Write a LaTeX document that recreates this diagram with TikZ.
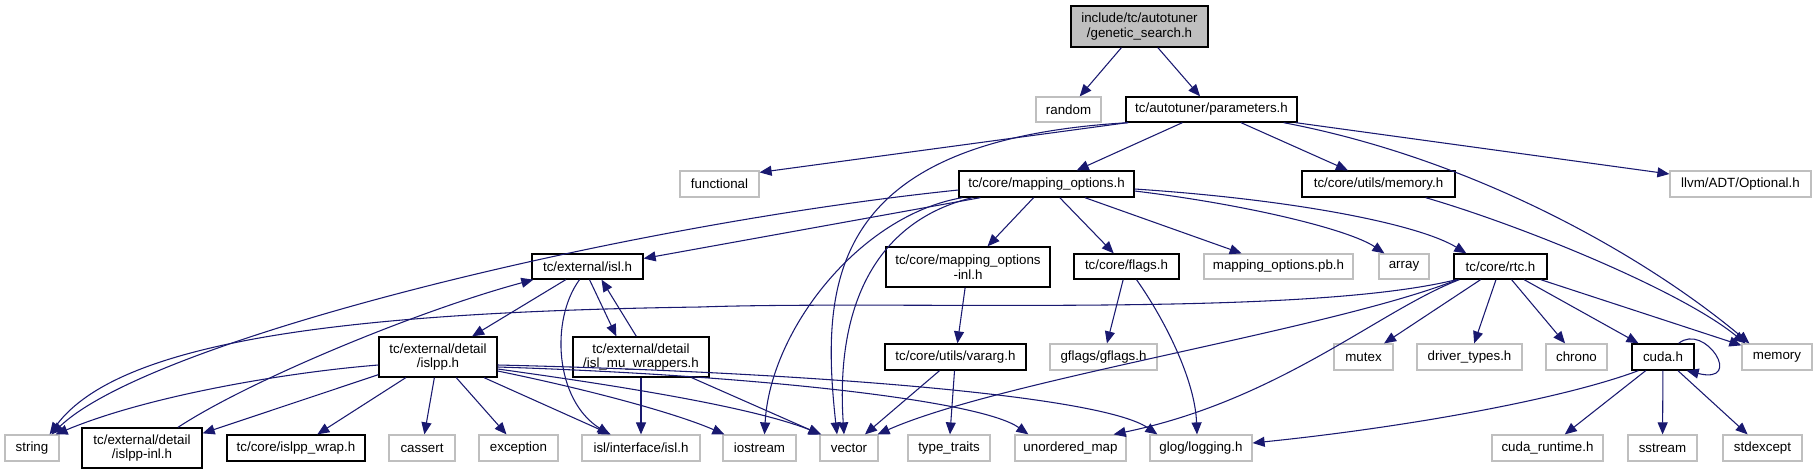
\documentclass[tikz,border=0pt]{standalone}
\usepackage{fontspec}
\setmainfont{Liberation Sans}
\usetikzlibrary{arrows.meta,calc}
\definecolor{edgec}{HTML}{191970}
\definecolor{grayb}{HTML}{BFBFBF}
\begin{document}
\begin{tikzpicture}[x=0.75pt,y=-0.75pt,
  base/.style={rectangle, inner sep=0pt, font=\fontsize{10}{11}\selectfont, align=center, text=black},
  box/.style={base, draw=black, line width=1pt},
  ext/.style={base, draw=grayb, line width=0.9pt},
  sz/.style 2 args={minimum width=#1*0.75pt, minimum height=#2*0.75pt},
  e/.style={draw=edgec, line width=0.8pt, -{Triangle[length=9pt,width=7.5pt]}}]
\useasboundingbox (0,0) rectangle (1816,475);
\fill[white] (0,0) rectangle (1816,475);
% level 0
\node[box, fill=grayb, sz={137}{41}] (gs) at (1139.5,26.5) {include/tc/autotuner\\/genetic\_search.h};
% level 1
\node[ext, sz={65}{25}] (random) at (1068.5,109.5) {random};
\node[box, sz={171}{25}] (params) at (1211.5,109.5) {tc/autotuner/parameters.h};
% level 2
\node[ext, sz={79}{26}] (functional) at (719.5,184) {functional};
\node[box, sz={175}{26}] (mapopt) at (1046.5,184) {tc/core/mapping\_options.h};
\node[box, sz={153}{26}] (umem) at (1378.5,184) {tc/core/utils/memory.h};
\node[ext, sz={141}{26}] (llvm) at (1740.5,184) {llvm/ADT/Optional.h};
% level 3
\node[box, sz={111}{25}] (isl) at (587.5,266.5) {tc/external/isl.h};
\node[box, sz={164}{40}] (mapinl) at (968,267) {tc/core/mapping\_options\\-inl.h};
\node[box, sz={105}{25}] (flags) at (1126.5,266.5) {tc/core/flags.h};
\node[ext, sz={149}{25}] (pb) at (1278.5,266.5) {mapping\_options.pb.h};
\node[ext, sz={50}{25}] (array) at (1404,266.5) {array};
\node[box, sz={93}{25}] (rtc) at (1500.5,266.5) {tc/core/rtc.h};
% level 4
\node[box, sz={118}{40}] (islpp) at (438,357) {tc/external/detail\\/islpp.h};
\node[box, sz={136}{40}] (mu) at (641,357) {tc/external/detail\\/isl\_mu\_wrappers.h};
\node[box, sz={141}{26}] (varg) at (955.5,357) {tc/core/utils/vararg.h};
\node[ext, sz={107}{26}] (gflags) at (1103.5,357) {gflags/gflags.h};
\node[ext, sz={59}{26}] (mutex) at (1363.5,357) {mutex};
\node[ext, sz={105}{26}] (driver) at (1469.5,357) {driver\_types.h};
\node[ext, sz={61}{26}] (chrono) at (1576.5,357) {chrono};
\node[box, sz={62}{26}] (cuda) at (1663,357) {cuda.h};
\node[ext, sz={70}{26}] (memory) at (1777,357) {memory};
% level 5
\node[ext, sz={54}{26}] (string) at (32,448) {string};
\node[box, sz={120}{40}] (islppinl) at (142,448) {tc/external/detail\\/islpp-inl.h};
\node[box, sz={138}{26}] (wrap) at (296,448) {tc/core/islpp\_wrap.h};
\node[ext, sz={66}{26}] (cassert) at (422,448) {cassert};
\node[ext, sz={79}{26}] (exception) at (518.5,448) {exception};
\node[ext, sz={118}{26}] (ifisl) at (641,448) {isl/interface/isl.h};
\node[ext, sz={73}{26}] (iostream) at (759.5,448) {iostream};
\node[ext, sz={58}{26}] (vector) at (849,448) {vector};
\node[ext, sz={82}{26}] (typetraits) at (949,448) {type\_traits};
\node[ext, sz={111}{26}] (umap) at (1070.5,448) {unordered\_map};
\node[ext, sz={102}{26}] (glog) at (1201,448) {glog/logging.h};
\node[ext, sz={111}{26}] (cudart) at (1547.5,448) {cuda\_runtime.h};
\node[ext, sz={69}{26}] (sstream) at (1662.5,448) {sstream};
\node[ext, sz={79}{26}] (stdexcept) at (1762.5,448) {stdexcept};

% edges from genetic_search.h
\draw[e] (gs) -- (random);
\draw[e] (gs) -- (params);
% edges from parameters.h
\draw[e] ($(params.south west)+(2,0)$) -- ($(functional.north east)+(0,2)$);
\draw[e] ($(params.south west)+(3,0)$) .. controls (830,140) and (820,280) .. ($(vector.north)+(-12,0)$);
\draw[e] (params) -- (mapopt);
\draw[e] (params) -- (umem);
\draw[e] ($(params.south east)+(-14,0)$) .. controls (1480,160) and (1650,260) .. ($(memory.north west)+(8,0)$);
\draw[e] ($(params.south east)+(-2,0)$) -- ($(llvm.west)+(0,-10)$);
% edges from mapping_options.h
\draw[e] ($(mapopt.west)+(0,6)$) .. controls (620,225) and (150,340) .. ($(string.north east)+(-8,0)$);
\draw[e] ($(mapopt.south west)+(22,0)$) -- ($(isl.east)+(0,-8)$);
\draw[e] ($(mapopt.south west)+(4,0)$) .. controls (860,215) and (770,330) .. ($(iostream.north)+(5,0)$);
\draw[e] ($(mapopt.south west)+(14,0)$) .. controls (880,220) and (835,300) .. ($(vector.north)+(-5,0)$);
\draw[e] (mapopt) -- (mapinl);
\draw[e] (mapopt) -- (flags);
\draw[e] (mapopt) -- (pb);
\draw[e] ($(mapopt.east)+(0,7)$) .. controls (1250,205) and (1350,230) .. ($(array.north west)+(6,0)$);
\draw[e] ($(mapopt.east)+(0,5)$) .. controls (1300,200) and (1420,225) .. ($(rtc.north west)+(13,0)$);
% tc/core/utils/memory.h
\draw[e] ($(umem.south east)+(-30,0)$) .. controls (1520,225) and (1680,290) .. ($(memory.north west)+(4,0)$);
% isl.h
\draw[e] (isl) -- (islpp);
\draw[e] ($(isl.south)+(-8,0)$) .. controls (550,320) and (555,400) .. ($(ifisl.north west)+(28,0)$);
\draw[e] ($(isl.south)+(2,0)$) -- ($(mu.north west)+(44,0)$);
\draw[e] ($(mu.north west)+(64,0)$) -- ($(isl.south)+(14,0)$);
% islpp.h
\draw[e] ($(islpp.west)+(0,8)$) .. controls (290,372) and (150,395) .. ($(string.north east)+(-4,0)$);
\draw[e] ($(islpp.south west)+(0,-3)$) -- ($(islppinl.north east)+(0,6)$);
\draw[e] (islpp) -- (wrap);
\draw[e] (islpp) -- (cassert);
\draw[e] (islpp) -- (exception);
\draw[e] (islpp) -- (ifisl);
\draw[e] ($(islpp.east)+(0,14)$) .. controls (600,392) and (680,415) .. ($(iostream.north west)+(2,0)$);
\draw[e] ($(islpp.east)+(0,12)$) .. controls (650,390) and (760,410) .. ($(vector.north west)+(2,0)$);
\draw[e] ($(islpp.east)+(0,10)$) .. controls (750,375) and (980,400) .. ($(umap.north west)+(14,0)$);
\draw[e] ($(islpp.east)+(0,8)$) .. controls (800,372) and (1100,395) .. ($(glog.north west)+(8,0)$);
% islpp-inl.h
\draw[e] ($(islppinl.north)+(36,0)$) .. controls (250,380) and (420,310) .. ($(isl.south west)+(2,0)$);
% isl_mu_wrappers.h
\draw[e] (mu) -- (ifisl);
\draw[e] ($(mu.south east)+(-18,0)$) -- ($(vector.north west)+(1,0)$);
% mapping_options-inl.h, vararg.h
\draw[e] (mapinl) -- (varg);
\draw[e] (varg) -- (vector);
\draw[e] (varg) -- (typetraits);
% flags.h
\draw[e] (flags) -- (gflags);
\draw[e] ($(flags.south)+(10,0)$) .. controls (1165,320) and (1195,380) .. ($(glog.north)+(-4,0)$);
% rtc.h
\draw[e] ($(rtc.south west)+(3,0)$) .. controls (1300,318) and (900,300) .. (700,307) .. controls (350,312) and (120,340) .. ($(string.north east)+(-10,0)$);
\draw[e] ($(rtc.south west)+(4,0)$) .. controls (1330,330) and (1000,380) .. ($(vector.north east)+(-1,0)$);
\draw[e] ($(rtc.south west)+(6,0)$) .. controls (1380,310) and (1280,400) .. ($(umap.north east)+(-13,0)$);
\draw[e] (rtc) -- (mutex);
\draw[e] (rtc) -- (driver);
\draw[e] (rtc) -- (chrono);
\draw[e] (rtc) -- (cuda);
\draw[e] (rtc) -- (memory);
% cuda.h
\draw[e] ($(cuda.north east)+(-16,0)$) .. controls (1705,322) and (1745,385) .. ($(cuda.south east)+(-8,0)$);
\draw[e] ($(cuda.south west)+(7,0)$) .. controls (1560,400) and (1400,428) .. ($(glog.east)+(0,-5)$);
\draw[e] (cuda) -- (cudart);
\draw[e] (cuda) -- (sstream);
\draw[e] (cuda) -- (stdexcept);
\end{tikzpicture}
\end{document}
